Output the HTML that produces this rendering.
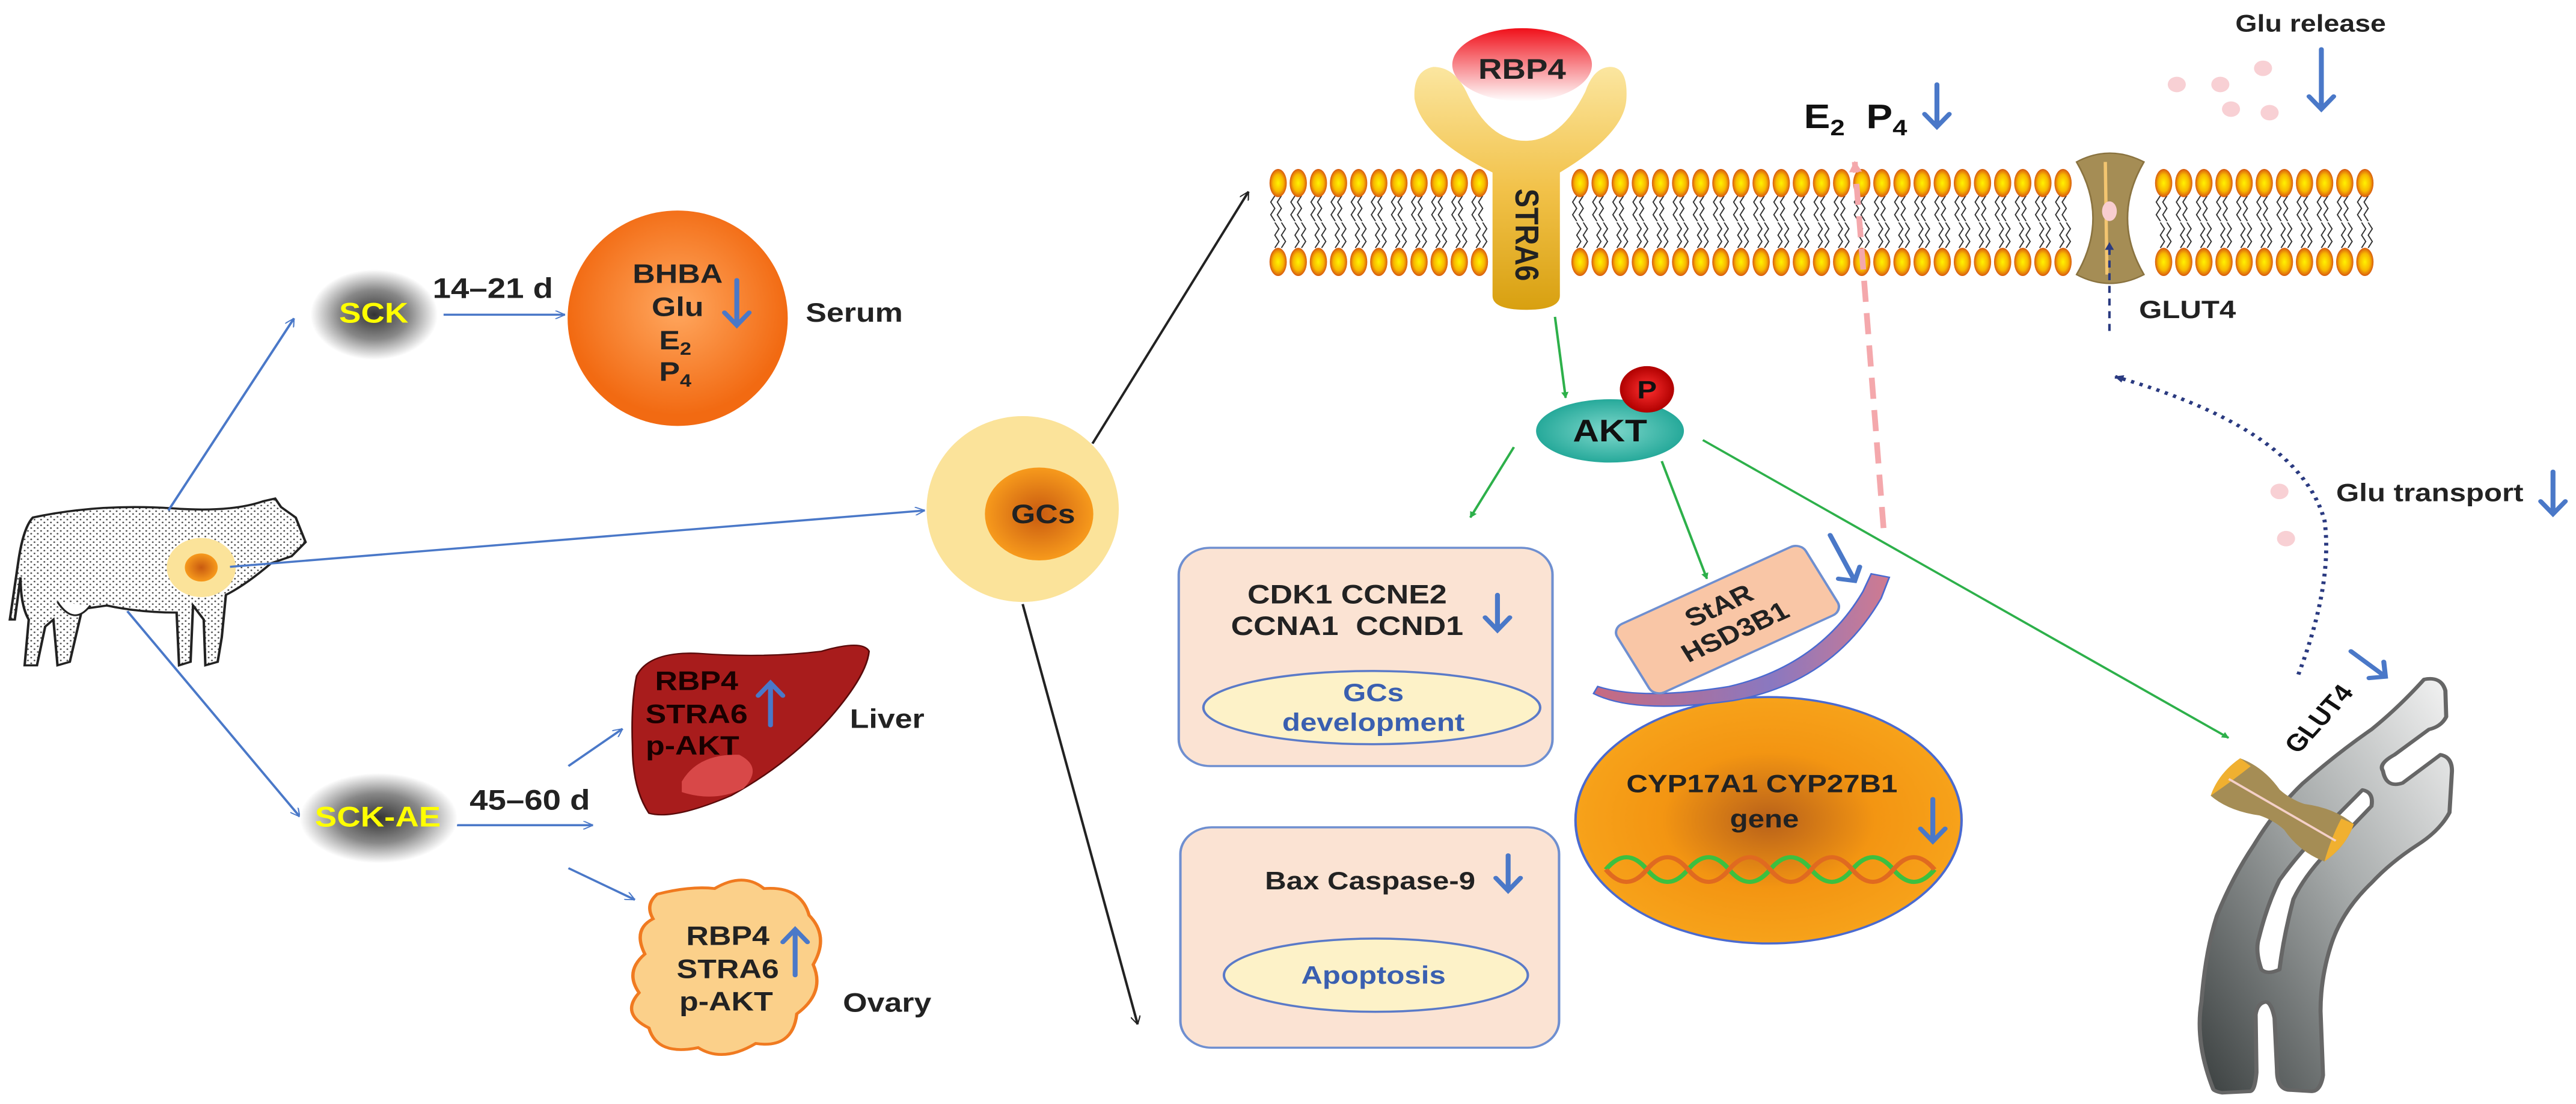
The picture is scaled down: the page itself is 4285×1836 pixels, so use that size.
<!DOCTYPE html>
<html><head><meta charset="utf-8"><style>
html,body{margin:0;padding:0;background:#fff;overflow:hidden}
svg{display:block}
text{font-family:"Liberation Sans Narrow","Liberation Sans",Arial,sans-serif;font-weight:bold}
</style></head><body>
<svg id="s" width="4285" height="1836" viewBox="0 0 3136 1568" preserveAspectRatio="none" xmlns="http://www.w3.org/2000/svg">
<defs>
<marker id="ab" markerWidth="12" markerHeight="12" refX="10" refY="5" orient="auto" markerUnits="userSpaceOnUse" viewBox="0 0 10 10"><path d="M0,0 L10,5 L0,10" fill="none" stroke="#4a78c8" stroke-width="1.3"/></marker>
<marker id="ak" markerWidth="12" markerHeight="12" refX="10" refY="5" orient="auto" markerUnits="userSpaceOnUse" viewBox="0 0 10 10"><path d="M0,0 L10,5 L0,10" fill="none" stroke="#222" stroke-width="1.3"/></marker>
<marker id="ag" markerWidth="9" markerHeight="9" refX="9" refY="5" orient="auto" markerUnits="userSpaceOnUse" viewBox="0 0 10 10"><path d="M0,0 L10,5 L0,10z" fill="#2db04a"/></marker>
<marker id="an" markerWidth="11" markerHeight="11" refX="9" refY="5" orient="auto" markerUnits="userSpaceOnUse" viewBox="0 0 10 10"><path d="M0,0 L10,5 L0,10z" fill="#2a3a80"/></marker>
<marker id="ap" markerWidth="16" markerHeight="16" refX="9" refY="5" orient="auto" markerUnits="userSpaceOnUse" viewBox="0 0 10 10"><path d="M0,0 L10,5 L0,10z" fill="#f4a8ac"/></marker>
<radialGradient id="pill"><stop offset="0" stop-color="#333"/><stop offset="0.55" stop-color="#888"/><stop offset="1" stop-color="#fff"/></radialGradient>
<radialGradient id="org" cx="0.5" cy="0.45"><stop offset="0" stop-color="#ffa860"/><stop offset="1" stop-color="#f26a12"/></radialGradient>
<radialGradient id="gcin"><stop offset="0" stop-color="#c85a10"/><stop offset="1" stop-color="#f79a1c"/></radialGradient>
<radialGradient id="nuc"><stop offset="0" stop-color="#b8611a"/><stop offset="0.55" stop-color="#f39512"/><stop offset="1" stop-color="#f7a21a"/></radialGradient>
<linearGradient id="rbp" x1="0" y1="0" x2="0" y2="1"><stop offset="0" stop-color="#f0101a"/><stop offset="1" stop-color="#fff"/></linearGradient>
<linearGradient id="rec" x1="0" y1="0" x2="0" y2="1"><stop offset="0" stop-color="#fbe6a0"/><stop offset="0.5" stop-color="#f2c24a"/><stop offset="1" stop-color="#d8a010"/></linearGradient>
<radialGradient id="head"><stop offset="0" stop-color="#fff200"/><stop offset="0.6" stop-color="#f8b800"/><stop offset="1" stop-color="#d85a10"/></radialGradient>
<radialGradient id="akt"><stop offset="0" stop-color="#7fd8cc"/><stop offset="1" stop-color="#26a99a"/></radialGradient>
<radialGradient id="pcir"><stop offset="0" stop-color="#ff3030"/><stop offset="1" stop-color="#b00000"/></radialGradient>
<linearGradient id="grey" x1="0" y1="1" x2="1" y2="0"><stop offset="0" stop-color="#3a3f3f"/><stop offset="0.55" stop-color="#a8acac"/><stop offset="1" stop-color="#f4f4f4"/></linearGradient>
<linearGradient id="curv" x1="0" y1="0" x2="1" y2="0"><stop offset="0" stop-color="#c86a80"/><stop offset="0.6" stop-color="#8a78c0"/><stop offset="1" stop-color="#d07a90"/></linearGradient>
<pattern id="dots" width="8" height="8" patternUnits="userSpaceOnUse"><rect width="8" height="8" fill="#fff"/><circle cx="2" cy="2" r="1.1" fill="#444"/><circle cx="6" cy="6" r="1.1" fill="#444"/></pattern>
</defs>

<!-- cow -->
<path d="M40,735 Q120,715 210,722 Q280,728 320,712 L335,708 L342,720 L360,735 L372,770 L355,790 L330,800 Q300,830 275,845 L270,905 L265,940 L250,945 L248,880 L235,860 L232,940 L218,945 L215,870 Q170,870 130,860 L100,865 L85,940 L70,945 L65,880 L55,890 L45,945 L30,945 L35,880 Q25,860 25,820 L18,880 L12,880 L22,800 Q28,750 40,735Z" fill="url(#dots)" stroke="#222" stroke-width="3"/>
<path d="M70,855 Q90,890 110,860" fill="#fff" stroke="#222" stroke-width="2.5"/>
<circle cx="245" cy="806" r="42" fill="#fbe39a"/><circle cx="245" cy="806" r="20" fill="url(#gcin)"/>

<!-- left arrows -->
<g stroke="#4a78c8" stroke-width="3" fill="none">
<line x1="205" y1="725" x2="358" y2="452" marker-end="url(#ab)"/>
<line x1="155" y1="868" x2="365" y2="1160" marker-end="url(#ab)"/>
<line x1="540" y1="447" x2="688" y2="447" marker-end="url(#ab)"/>
<line x1="555" y1="1172" x2="722" y2="1172" marker-end="url(#ab)"/>
<line x1="692" y1="1088" x2="758" y2="1035" marker-end="url(#ab)"/>
<line x1="692" y1="1233" x2="773" y2="1278" marker-end="url(#ab)"/>
<line x1="280" y1="805" x2="1126" y2="725" marker-end="url(#ab)"/>
</g>
<g stroke="#222" stroke-width="3" fill="none">
<line x1="1330" y1="630" x2="1520" y2="272" marker-end="url(#ak)"/>
<line x1="1245" y1="858" x2="1385" y2="1455" marker-end="url(#ak)"/>
</g>

<!-- SCK pills -->
<rect x="378" y="383" width="155" height="128" rx="60" fill="url(#pill)"/>
<text x="455" y="458" font-size="40" fill="#ffff00" text-anchor="middle">SCK</text>
<rect x="365" y="1098" width="192" height="128" rx="62" fill="url(#pill)"/>
<text x="460" y="1174" font-size="40" fill="#ffff00" text-anchor="middle">SCK-AE</text>
<text x="600" y="423" font-size="40" text-anchor="middle" fill="#222">14–21 d</text>
<text x="645" y="1150" font-size="40" text-anchor="middle" fill="#222">45–60 d</text>

<!-- serum -->
<ellipse cx="825" cy="452" rx="134" ry="153" fill="url(#org)"/>
<g font-size="38" fill="#222" text-anchor="middle">
<text x="825" y="402">BHBA</text><text x="825" y="449">Glu</text>
<text x="822" y="496">E<tspan font-size="25" dy="8">2</tspan></text>
<text x="822" y="541">P<tspan font-size="25" dy="8">4</tspan></text>
<text x="1040" y="457">Serum</text>
<text x="1080" y="1034">Liver</text>
<text x="1080" y="1437">Ovary</text>
</g>

<!-- liver -->
<path d="M775,960 Q790,925 850,928 Q930,935 1000,925 Q1050,908 1058,925 Q1055,960 1010,1020 Q960,1085 890,1130 Q820,1165 790,1155 Q770,1120 770,1060 Q768,1000 775,960Z" fill="#a81c1c" stroke="#5a0a0a" stroke-width="2"/>
<path d="M830,1110 Q850,1070 900,1072 Q930,1090 905,1120 Q870,1140 830,1125Z" fill="#d84848"/>
<g font-size="38" fill="#1a0000" text-anchor="middle">
<text x="848" y="980">RBP4</text><text x="848" y="1027">STRA6</text><text x="843" y="1072">p-AKT</text>
</g>
<!-- ovary -->
<path d="M800,1270 Q840,1258 870,1262 Q905,1238 930,1262 Q975,1258 985,1300 Q1010,1330 990,1370 Q1005,1410 970,1440 Q965,1490 920,1482 Q880,1510 850,1488 Q800,1500 790,1460 Q755,1440 778,1410 Q760,1380 785,1355 Q770,1320 795,1305 Q785,1285 800,1270Z" fill="#fbd08a" stroke="#f07a20" stroke-width="4"/>
<g font-size="38" fill="#222" text-anchor="middle">
<text x="886" y="1342">RBP4</text><text x="886" y="1389">STRA6</text><text x="884" y="1435">p-AKT</text>
</g>

<!-- GCs -->
<ellipse cx="1245" cy="723" rx="117" ry="132" fill="#fbe39a"/>
<circle cx="1265" cy="730" r="66" fill="url(#gcin)"/>
<text x="1270" y="743" font-size="38" text-anchor="middle" fill="#222">GCs</text>

<!-- membrane -->
<g id="mem"></g>

<!-- receptor -->
<path d="M1745,95 Q1720,100 1722,140 Q1730,195 1817,245 L1817,420 Q1817,440 1858,440 Q1899,440 1899,420 L1899,245 Q1978,190 1980,140 Q1982,95 1960,95 Q1940,96 1930,130 Q1900,200 1857,200 Q1812,200 1785,130 Q1770,95 1745,95Z" fill="url(#rec)"/>
<ellipse cx="1853" cy="92" rx="85" ry="52" fill="url(#rbp)"/>
<text x="1853" y="112" font-size="40" text-anchor="middle" fill="#222">RBP4</text>
<text x="0" y="0" font-size="40" fill="#222" transform="translate(1845,268) rotate(90)">STRA6</text>

<!-- E2 P4 -->
<g font-size="48" fill="#111"><text x="2196" y="182">E<tspan font-size="32" dy="10">2</tspan></text><text x="2272" y="182">P<tspan font-size="32" dy="10">4</tspan></text></g>
<line x1="2293" y1="750" x2="2258" y2="230" stroke="#f4a8ac" stroke-width="7" stroke-dasharray="30,16" marker-end="url(#ap)"/>

<!-- GLUT4 channel in membrane -->
<path d="M2528,230 Q2568,205 2610,230 Q2590,270 2590,310 Q2590,350 2610,390 Q2568,415 2528,390 Q2548,350 2548,310 Q2548,270 2528,230Z" fill="#a58d55" stroke="#8a7340" stroke-width="2"/>
<path d="M2563,230 L2565,390" stroke="#f3c570" stroke-width="4"/>
<ellipse cx="2568" cy="300" rx="9" ry="14" fill="#f8cdd0"/>
<line x1="2568" y1="470" x2="2568" y2="345" stroke="#2a3a80" stroke-width="3" stroke-dasharray="10,8" marker-end="url(#an)"/>
<text x="2663" y="452" font-size="36" fill="#222" text-anchor="middle">GLUT4</text>

<!-- Glu release -->
<text x="2813" y="45" font-size="34" fill="#222" text-anchor="middle">Glu release</text>
<g fill="#f8d0d4"><circle cx="2650" cy="120" r="11"/><circle cx="2703" cy="120" r="11"/><circle cx="2755" cy="97" r="11"/><circle cx="2716" cy="155" r="11"/><circle cx="2763" cy="160" r="11"/><circle cx="2775" cy="698" r="11"/><circle cx="2783" cy="765" r="11"/></g>
<text x="2958" y="712" font-size="36" fill="#222" text-anchor="middle">Glu transport</text>
<path d="M2798,958 Q2840,830 2830,740 Q2800,610 2575,535" fill="none" stroke="#2a3a80" stroke-width="5" stroke-dasharray="4,7" marker-end="url(#an)"/>

<!-- AKT -->
<line x1="1893" y1="450" x2="1906" y2="565" stroke="#2db04a" stroke-width="3" marker-end="url(#ag)"/>
<ellipse cx="1960" cy="612" rx="90" ry="45" fill="url(#akt)"/>
<text x="1960" y="627" font-size="44" text-anchor="middle" fill="#111">AKT</text>
<circle cx="2005" cy="553" r="33" fill="url(#pcir)"/>
<text x="2005" y="566" font-size="36" text-anchor="middle" fill="#111">P</text>
<g stroke="#2db04a" stroke-width="3">
<line x1="1843" y1="635" x2="1790" y2="735" marker-end="url(#ag)"/>
<line x1="2023" y1="655" x2="2078" y2="822" marker-end="url(#ag)"/>
<line x1="2073" y1="625" x2="2713" y2="1048" marker-end="url(#ag)"/>
</g>

<!-- boxes -->
<rect x="1435" y="778" width="455" height="310" rx="38" fill="#fbe3d3" stroke="#6f8fd0" stroke-width="3"/>
<text x="1640" y="857" font-size="38" text-anchor="middle" fill="#222">CDK1 CCNE2</text>
<text x="1640" y="902" font-size="38" text-anchor="middle" fill="#222" xml:space="preserve">CCNA1  CCND1</text>
<ellipse cx="1670" cy="1005" rx="205" ry="52" fill="#fdf2c8" stroke="#5a7ac8" stroke-width="3"/>
<text x="1672" y="996" font-size="36" text-anchor="middle" fill="#3a5fb0">GCs</text>
<text x="1672" y="1038" font-size="36" text-anchor="middle" fill="#3a5fb0">development</text>
<rect x="1437" y="1175" width="461" height="313" rx="38" fill="#fbe3d3" stroke="#6f8fd0" stroke-width="3"/>
<text x="1668" y="1263" font-size="36" text-anchor="middle" fill="#222">Bax Caspase-9</text>
<ellipse cx="1675" cy="1385" rx="185" ry="52" fill="#fdf2c8" stroke="#5a7ac8" stroke-width="3"/>
<text x="1672" y="1397" font-size="36" text-anchor="middle" fill="#3a5fb0">Apoptosis</text>

<!-- nucleus -->
<ellipse cx="2153" cy="1165" rx="235" ry="175" fill="url(#nuc)" stroke="#4a6ad0" stroke-width="3"/>
<text x="2145" y="1125" font-size="36" text-anchor="middle" fill="#222">CYP17A1 CYP27B1</text>
<text x="2148" y="1175" font-size="36" text-anchor="middle" fill="#222">gene</text>
<g fill="none" stroke-width="6">
<path d="M1955,1235 q25,-35 50,0 t50,0 t50,0 t50,0 t50,0 t50,0 t50,0 t50,0" stroke="#3cc040"/>
<path d="M1955,1235 q25,35 50,0 t50,0 t50,0 t50,0 t50,0 t50,0 t50,0 t50,0" stroke="#e06a20"/>
</g>

<!-- curved arrow + StAR -->
<path d="M1940,985 Q1990,1015 2110,995 Q2230,970 2290,850 L2300,820 L2278,815 L2268,840 Q2215,945 2105,975 Q2000,995 1945,975Z" fill="url(#curv)" stroke="#4a6ad0" stroke-width="2"/>
<g transform="rotate(-28 2103 880)">
<rect x="1973" y="825" width="260" height="110" rx="14" fill="#f9c6a6" stroke="#6f8fd0" stroke-width="3"/>
<text x="2103" y="870" font-size="36" text-anchor="middle" fill="#222">StAR</text>
<text x="2103" y="912" font-size="36" text-anchor="middle" fill="#222">HSD3B1</text>
</g>

<!-- golgi/vesicle -->
<path fill-rule="evenodd" fill="url(#grey)" stroke="#666" stroke-width="5" stroke-linejoin="round" d="M2694,1546 Q2672,1480 2680,1423 Q2685,1350 2699,1300 Q2718,1245 2744,1200 Q2770,1150 2803,1113 Q2845,1070 2887,1036 Q2920,1005 2951,965 Q2972,960 2977,981 L2978,1018 Q2972,1032 2957,1036 L2915,1072 Q2895,1085 2901,1095 Q2905,1120 2925,1112 L2971,1072 Q2985,1075 2985,1095 L2982,1154 Q2970,1180 2943,1200 Q2910,1225 2887,1254 Q2850,1295 2837,1345 Q2825,1390 2825,1436 L2828,1527 Q2825,1550 2814,1550 L2785,1548 Q2772,1545 2772,1520 L2769,1446 Q2765,1423 2758,1423 Q2748,1425 2746,1441 L2747,1523 Q2745,1550 2739,1550 L2705,1552 Q2695,1550 2694,1546Z M2753,1377 Q2745,1350 2750,1332 Q2760,1285 2775,1250 Q2800,1210 2825,1182 L2876,1122 Q2890,1125 2887,1145 L2831,1213 Q2805,1245 2792,1277 Q2780,1330 2775,1377 Q2760,1385 2753,1377Z"/>
<g transform="rotate(34 2778 1150)">
<path d="M2695,1118 Q2725,1112 2760,1128 Q2778,1132 2796,1128 Q2830,1112 2862,1118 Q2872,1150 2862,1182 Q2830,1188 2796,1172 Q2778,1168 2760,1172 Q2725,1188 2695,1182 Q2685,1150 2695,1118Z" fill="#a58d55"/>
<path d="M2695,1118 Q2685,1150 2695,1182 Q2705,1150 2712,1120Z M2862,1118 Q2872,1150 2862,1182 Q2850,1150 2845,1120Z" fill="#f0b030"/>
<line x1="2700" y1="1150" x2="2857" y2="1150" stroke="#f4d0c8" stroke-width="3"/>
</g>
<text x="0" y="0" font-size="34" fill="#111" text-anchor="middle" transform="translate(2832,1028) rotate(-52)">GLUT4</text>

<!-- blue arrows (up/down indicators) -->
<g stroke="#4a78c8" stroke-width="6" fill="none" stroke-linecap="round">
<path d="M897,398 V462 M882,444 L897,462 L912,444"/>
<path d="M938,1030 V970 M923,988 L938,970 L953,988"/>
<path d="M968,1385 V1320 M953,1338 L968,1320 L983,1338"/>
<path d="M1823,845 V895 M1808,877 L1823,895 L1838,877"/>
<path d="M1836,1215 V1265 M1821,1247 L1836,1265 L1851,1247"/>
<path d="M2358,120 V180 M2343,162 L2358,180 L2373,162"/>
<path d="M2826,70 V155 M2811,137 L2826,155 L2841,137"/>
<path d="M3108,670 V730 M3093,712 L3108,730 L3123,712"/>
<path d="M2353,1135 V1195 M2338,1177 L2353,1195 L2368,1177"/>
<path d="M2228,760 L2258,825 M2238,822 L2258,825 L2264,805"/>
<path d="M2862,925 L2904,961 M2884,963 L2904,961 L2902,940"/>
</g>
</svg>
<script>
(function(){
var g=document.getElementById('mem'),h='';
for(var x=1556;x<2900;x+=24.5){
 if(x>1810&&x<1905)continue;
 if(x>2526&&x<2610)continue;
 h+='<path d="M'+(x-4)+',278 l-5,9 l5,9 l-5,9 l5,9 M'+(x+4)+',278 l-5,9 l5,9 l-5,9 l5,9" stroke="#333" stroke-width="1.5" fill="none"/>';
 h+='<path d="M'+(x-4)+',316 l5,9 l-5,9 l5,9 l-5,9 M'+(x+4)+',316 l5,9 l-5,9 l5,9 l-5,9" stroke="#333" stroke-width="1.5" fill="none"/>';
 h+='<ellipse cx="'+x+'" cy="260" rx="10.5" ry="20" fill="url(#head)"/>';
 h+='<ellipse cx="'+x+'" cy="372" rx="10.5" ry="20" fill="url(#head)"/>';
}
g.innerHTML=h;
})();
</script>
</body></html>
